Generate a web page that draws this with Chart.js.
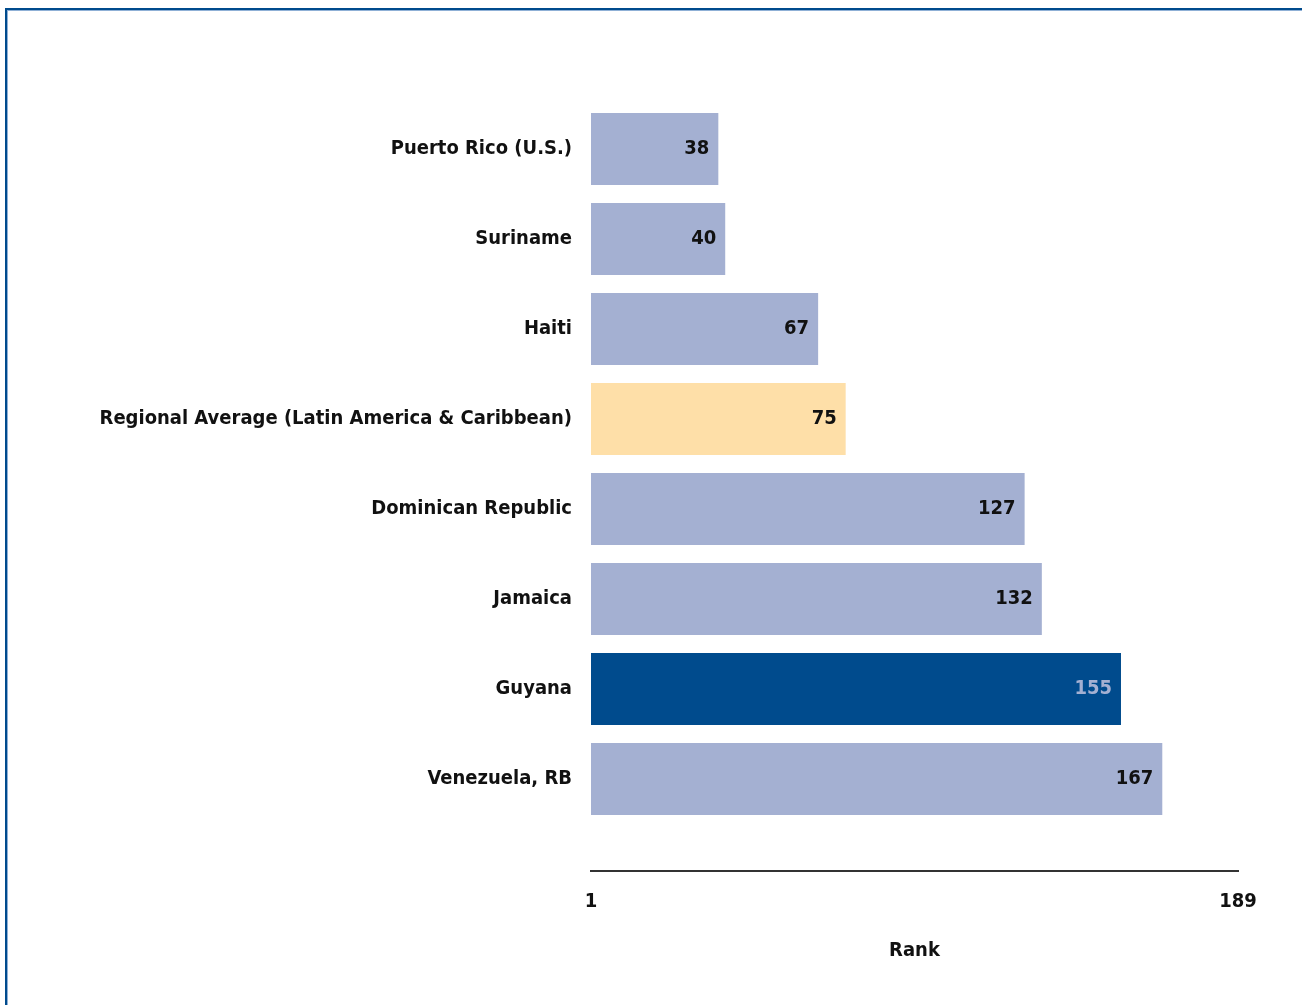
<!DOCTYPE html>
<html>
<head>
<meta charset="utf-8">
<script src="https://cdn.jsdelivr.net/npm/chart.js@4/dist/chart.umd.min.js"></script>
<style>
  html, body { margin: 0; padding: 0; background: #fff; }
  #wrap { position: relative; width: 1302px; height: 1005px; overflow: hidden; }
  #frame { position: absolute; left: 5px; top: 8px; width: 1400px; height: 1100px;
           border-left: 2px solid #004b8d; border-top: 2px solid #004b8d;
           box-shadow: inset 1px 1px 0 #8fb0d6; }
  canvas { position: absolute; left: 0; top: 0; }
</style>
</head>
<body>
<div id="wrap">
  <div id="frame"></div>
  <canvas id="grafico" width="1302" height="1005"></canvas>
</div>
<script>
// dados
const paises = ['Puerto Rico (U.S.)', 'Suriname', 'Haiti', 'Regional Average (Latin America & Caribbean)',
                'Dominican Republic', 'Jamaica', 'Guyana', 'Venezuela, RB'];
const ranking = [38, 40, 67, 75, 127, 132, 155, 167];
const destaque = ['outro', 'outro', 'outro', 'media', 'outro', 'outro', 'pais', 'outro'];
const ticksRank = [1, 189];

const cores = { outro: '#a4b0d2', media: '#fedfa8', pais: '#004b8d' };
const coresTexto = { outro: '#111111', media: '#111111', pais: '#a4b0d2' };
const fonte = "'DejaVu Sans Condensed', 'DejaVu Sans', sans-serif";

// rotulos dentro das barras
const rotulosBarras = {
    id: 'rotulosBarras',
    afterDatasetsDraw(chart) {
        const ctx = chart.ctx;
        const meta = chart.getDatasetMeta(0);
        ctx.save();
        ctx.font = `bold 20px ${fonte}`;
        ctx.textAlign = 'right';
        ctx.textBaseline = 'middle';
        meta.data.forEach((bar, i) => {
            ctx.fillStyle = coresTexto[destaque[i]];
            ctx.fillText(String(ranking[i]), bar.x - 9, bar.y);
        });
        ctx.restore();
    }
};

new Chart(document.getElementById('grafico'), {
    type: 'bar',
    data: {
        datasets: [{
            data: ranking.map((v, i) => ({ x: v, y: i })),
            backgroundColor: destaque.map(d => cores[d]),
            borderWidth: 0,
            barPercentage: 0.8,
            categoryPercentage: 1
        }]
    },
    options: {
        indexAxis: 'y',
        responsive: false,
        animation: false,
        layout: { padding: { top: 104, right: 64, bottom: 0, left: 0 } },
        plugins: { legend: { display: false }, tooltip: { enabled: false } },
        scales: {
            y: {
                type: 'linear',
                reverse: true,
                offset: false,
                min: -0.5,
                max: 8.022,
                grid: { display: false, drawTicks: false },
                border: { display: false },
                afterFit: s => { s.width = 591; },
                afterBuildTicks: s => { s.ticks = paises.map((p, i) => ({ value: i })); },
                ticks: {
                    padding: 19,
                    color: '#111',
                    font: { family: fonte, size: 20, weight: 'bold' },
                    callback: v => paises[v]
                }
            },
            x: {
                type: 'linear',
                min: 1,
                max: 189,
                grid: { display: false, drawTicks: false },
                border: { display: true, color: '#333', width: 2 },
                afterFit: s => { s.height = 134; },
                afterBuildTicks: s => { s.ticks = ticksRank.map(v => ({ value: v })); },
                ticks: {
                    padding: 19,
                    color: '#111',
                    maxRotation: 0,
                    autoSkip: false,
                    font: { family: fonte, size: 20, weight: 'bold' }
                },
                title: {
                    display: true,
                    text: 'Rank',
                    color: '#111',
                    padding: { top: 0, bottom: 42 },
                    font: { family: fonte, size: 20, weight: 'bold' }
                }
            }
        }
    },
    plugins: [rotulosBarras]
});
</script>
</body>
</html>
